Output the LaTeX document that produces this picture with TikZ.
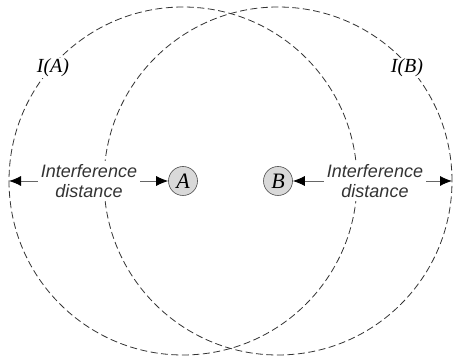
\documentclass[tikz,border=0pt]{standalone}
\usepackage{fontspec}
\setmainfont{Liberation Serif}
\setsansfont{Liberation Sans}
\usetikzlibrary{arrows.meta,calc}

\begin{document}
\begin{tikzpicture}[
  x=1pt, y=1pt,
  station/.style={circle, draw=black!70, fill=black!15, line width=0.6pt,
                  minimum size=29pt, inner sep=0pt,
                  font=\fontsize{22}{24}\selectfont\itshape},
  zone/.style={draw=black!80, line width=0.8pt, dash pattern=on 7pt off 3.5pt},
  zlabel/.style={fill=white, inner sep=1pt, font=\fontsize{20}{22}\selectfont\itshape},
  dist/.style={align=center, inner sep=3pt, fill=white, text=black!80,
               font=\sffamily\itshape\fontsize{18}{20}\selectfont},
  arr/.style={-{Latex[length=12pt, width=10pt, black]}, draw=black!60, line width=0.8pt}
]
\useasboundingbox (0,0) rectangle (453,356);
\node[station] (A) at (183,175) {A};
\node[station] (B) at (278,175) {B};
% interference ranges
\draw[zone] (A.center) circle[radius=174];
\draw[zone] (B.center) circle[radius=174];
\coordinate (Aedge) at ($(A.center)+(-174,0)$);
\coordinate (Bedge) at ($(B.center)+(174,0)$);
\node[zlabel] (IA) at (53,288) {I(A)};
\node[zlabel] (IB) at (407,288) {I(B)};
\node[dist] (dA) at (89,175) {Interference\\distance};
\node[dist] (dB) at (375,175) {Interference\\distance};
\draw[arr] (dA.west) -- (Aedge);
\draw[arr] (dA.east) -- (A);
\draw[arr] (dB.west) -- (B);
\draw[arr] (dB.east) -- (Bedge);
\end{tikzpicture}
\end{document}
